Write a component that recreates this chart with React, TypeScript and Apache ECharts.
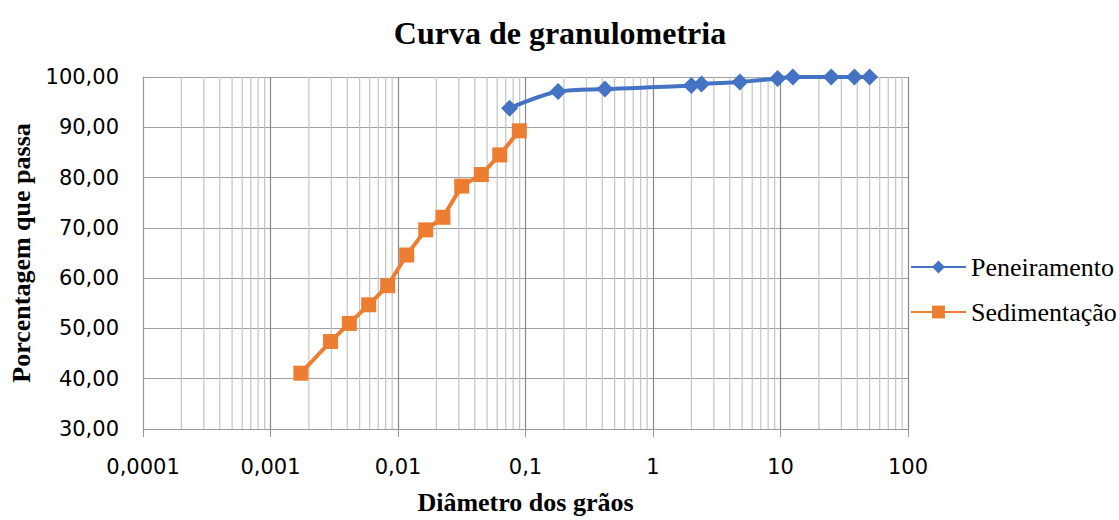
import React, { useEffect, useRef } from "react";
import * as echarts from "echarts";

const titleText = "Curva de granulometria";
const xAxisTitle = "Diâmetro dos grãos";
const yAxisTitle = "Porcentagem que passa";

const penName = "Peneiramento";
const penDiam = [0.075, 0.18, 0.42, 2.0, 2.4, 4.8, 9.5, 12.5, 25, 38, 50];
const penPct = [93.8, 97.1, 97.6, 98.3, 98.6, 99.0, 99.7, 100, 100, 100, 100];

const sedName = "Sedimentação";
const sedDiam = [0.00173, 0.00296, 0.00415, 0.00589, 0.0083, 0.0117, 0.0165, 0.0225, 0.0316, 0.045, 0.0628, 0.0894];
const sedPct = [41.1, 47.4, 51.0, 54.7, 58.5, 64.6, 69.6, 72.1, 78.3, 80.6, 84.5, 89.3];

const decadeExps = [-4, -3, -2, -1, 0, 1];
const minorMult = [2, 3, 4, 5, 6, 7, 8, 9];

const fmtX = (v: number) => {
  const k = Math.round(Math.log10(v));
  if (k < 0) return "0," + "0".repeat(-k - 1) + "1";
  return String(Math.pow(10, k));
};
const fmtY = (v: number) => v.toFixed(2).replace(".", ",");

export default function App() {
  const ref = useRef<HTMLDivElement>(null);
  useEffect(() => {
    if (!ref.current) return;
    const chart = echarts.init(ref.current, undefined, { renderer: "svg" });
    const minorVals: number[][] = [];
    decadeExps.forEach((k) => {
      minorMult.forEach((m) => {
        minorVals.push([m * Math.pow(10, k), 30]);
      });
    });
    const serif = "'Liberation Serif', 'Times New Roman', serif";
    const sans = "'DejaVu Sans', sans-serif";
    chart.setOption({
      animation: false,
      title: {
        text: titleText,
        left: 555,
        textAlign: "center",
        top: 12,
        textStyle: { fontFamily: serif, fontWeight: "bold", fontSize: 32, color: "#000" },
      },
      grid: { left: 143, right: 211, top: 77, bottom: 86, containLabel: false },
      legend: {
        orient: "vertical",
        left: 910,
        top: 254,
        padding: 0,
        data: [penName, sedName],
        itemWidth: 55,
        itemHeight: 16,
        itemGap: 19,
        textStyle: { fontFamily: serif, fontSize: 26, color: "#000", lineHeight: 26 },
      },
      xAxis: {
        type: "log",
        logBase: 10,
        min: 0.0001,
        max: 100,
        name: xAxisTitle,
        nameLocation: "middle",
        nameGap: 60,
        nameTextStyle: { fontFamily: serif, fontWeight: "bold", fontSize: 26, color: "#000" },
        axisLine: { show: true, lineStyle: { color: "#9a9a9a", width: 1 } },
        axisTick: { show: true, length: 8, lineStyle: { color: "#9a9a9a" } },
        axisLabel: { formatter: fmtX, fontFamily: sans, fontSize: 21, color: "#000", margin: 27 },
        splitLine: { show: true, lineStyle: { color: "#888888", width: 1.2 } },
        minorTick: { show: false },
        minorSplitLine: { show: false },
      },
      yAxis: {
        type: "value",
        min: 30,
        max: 100,
        interval: 10,
        name: yAxisTitle,
        nameLocation: "middle",
        nameRotate: 90,
        nameGap: 108,
        nameTextStyle: { fontFamily: serif, fontWeight: "bold", fontSize: 26, color: "#000" },
        axisLine: { show: true, lineStyle: { color: "#9a9a9a", width: 1 } },
        axisTick: { show: false },
        axisLabel: { formatter: fmtY, fontFamily: sans, fontSize: 21, color: "#000", margin: 24 },
        splitLine: { show: true, lineStyle: { color: "#a0a0a0", width: 1.2 } },
      },
      series: [
        {
          name: "minorGrid",
          type: "custom",
          z: 1,
          silent: true,
          clip: false,
          data: minorVals,
          renderItem: (params: any, api: any) => {
            const x = api.value(0);
            const p1 = api.coord([x, 30]);
            const p2 = api.coord([x, 100]);
            return {
              type: "line",
              shape: { x1: p1[0], y1: p1[1], x2: p2[0], y2: p2[1] },
              style: { stroke: "#c4c4c4", lineWidth: 1.2 },
            };
          },
        },
        {
          name: penName,
          type: "line",
          z: 3,
          data: penDiam.map((d, i) => [d, penPct[i]]),
          smooth: 0.3,
          symbol: "diamond",
          symbolSize: 17,
          lineStyle: { color: "#4472C4", width: 4 },
          itemStyle: { color: "#4472C4" },
        },
        {
          name: sedName,
          type: "line",
          z: 3,
          data: sedDiam.map((d, i) => [d, sedPct[i]]),
          symbol: "rect",
          symbolSize: 15,
          lineStyle: { color: "#ED7D31", width: 4 },
          itemStyle: { color: "#ED7D31" },
        },
      ],
    });
    return () => chart.dispose();
  }, []);
  return (
    <div
      ref={ref}
      style={{ position: "fixed", left: 0, top: 0, width: 1119, height: 520, background: "#fff" }}
    />
  );
}
